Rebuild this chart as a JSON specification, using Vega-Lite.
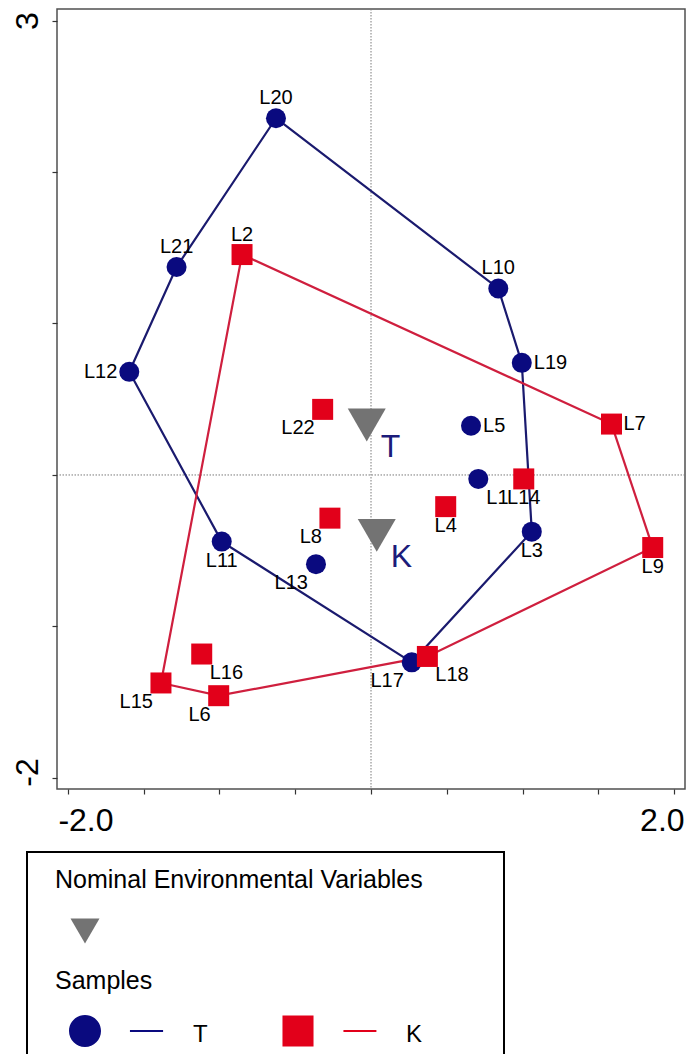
{
  "$schema": "https://vega.github.io/schema/vega-lite/v6.json",
  "width": 628,
  "height": 780,
  "autosize": {"type": "none"},
  "padding": {"left": 57, "top": 9, "right": 3, "bottom": 265},
  "config": {
    "font": "Liberation Sans",
    "view": {"stroke": "#505050", "strokeWidth": 1.5},
    "axis": {"domain": false, "grid": false, "title": null, "labelOverlap": false, "labelColor": "#000000", "tickColor": "#333333", "tickWidth": 1.2, "tickSize": 5, "labelFont": "Liberation Sans"}
  },
  "datasets": {
    "samples": [
      {"id": "L20", "group": "T", "x": -0.627, "y": 2.355, "hull": 1, "pos": "above"},
      {"id": "L10", "group": "T", "x": 0.840, "y": 1.231, "hull": 2, "pos": "above"},
      {"id": "L19", "group": "T", "x": 0.995, "y": 0.740, "hull": 3, "pos": "right"},
      {"id": "L3", "group": "T", "x": 1.061, "y": -0.374, "hull": 4, "pos": "below"},
      {"id": "L17", "group": "T", "x": 0.269, "y": -1.237, "hull": 5, "pos": "belowleft"},
      {"id": "L11", "group": "T", "x": -0.985, "y": -0.440, "hull": 6, "pos": "below"},
      {"id": "L12", "group": "T", "x": -1.595, "y": 0.681, "hull": 7, "pos": "left"},
      {"id": "L21", "group": "T", "x": -1.283, "y": 1.373, "hull": 8, "pos": "above"},
      {"id": "L5", "group": "T", "x": 0.660, "y": 0.325, "hull": null, "pos": "right"},
      {"id": "L1", "group": "T", "x": 0.708, "y": -0.026, "hull": null, "pos": "belowright"},
      {"id": "L13", "group": "T", "x": -0.363, "y": -0.589, "hull": null, "pos": "belowleft"},
      {"id": "L2", "group": "K", "x": -0.851, "y": 1.455, "hull": 1, "pos": "above"},
      {"id": "L7", "group": "K", "x": 1.587, "y": 0.336, "hull": 2, "pos": "right"},
      {"id": "L9", "group": "K", "x": 1.859, "y": -0.479, "hull": 3, "pos": "below"},
      {"id": "L18", "group": "K", "x": 0.372, "y": -1.198, "hull": 4, "pos": "belowright"},
      {"id": "L6", "group": "K", "x": -1.005, "y": -1.457, "hull": 5, "pos": "belowleft"},
      {"id": "L15", "group": "K", "x": -1.386, "y": -1.373, "hull": 6, "pos": "belowleft"},
      {"id": "L16", "group": "K", "x": -1.117, "y": -1.182, "hull": null, "pos": "belowright"},
      {"id": "L22", "group": "K", "x": -0.319, "y": 0.433, "hull": null, "pos": "belowleft"},
      {"id": "L8", "group": "K", "x": -0.271, "y": -0.285, "hull": null, "pos": "belowleft"},
      {"id": "L4", "group": "K", "x": 0.493, "y": -0.209, "hull": null, "pos": "below"},
      {"id": "L14", "group": "K", "x": 1.008, "y": -0.026, "hull": null, "pos": "below"}
    ],
    "env": [
      {"env": "T", "x": -0.028, "y": 0.330},
      {"env": "K", "x": 0.038, "y": -0.399}
    ]
  },
  "layer": [
    {
      "data": {"values": [{}]},
      "mark": {"type": "rule", "color": "#7a7a7a", "strokeWidth": 1, "strokeDash": [1.5, 1.5]},
      "encoding": {"x": {"datum": 0, "type": "quantitative", "scale": {"domain": [-2.072, 2.072], "nice": false, "zero": false}}}
    },
    {
      "data": {"values": [{}]},
      "mark": {"type": "rule", "color": "#7a7a7a", "strokeWidth": 1, "strokeDash": [1.5, 1.5]},
      "encoding": {"y": {"datum": 0, "type": "quantitative", "scale": {"domain": [-2.073, 3.076], "nice": false, "zero": false}}}
    },
    {
      "data": {"name": "samples"},
      "transform": [{"filter": "isValid(datum.hull) && datum.group === 'T'"}],
      "mark": {"type": "line", "interpolate": "linear-closed", "strokeWidth": 2.2, "color": "#1a1a6e"},
      "encoding": {
        "x": {"field": "x", "type": "quantitative", "scale": {"domain": [-2.072, 2.072], "nice": false, "zero": false}},
        "y": {"field": "y", "type": "quantitative", "scale": {"domain": [-2.073, 3.076], "nice": false, "zero": false}},
        "order": {"field": "hull", "type": "quantitative"}
      }
    },
    {
      "data": {"name": "samples"},
      "transform": [{"filter": "isValid(datum.hull) && datum.group === 'K'"}],
      "mark": {"type": "line", "interpolate": "linear-closed", "strokeWidth": 2.2, "color": "#cf1f3e"},
      "encoding": {
        "x": {"field": "x", "type": "quantitative", "scale": {"domain": [-2.072, 2.072], "nice": false, "zero": false}},
        "y": {"field": "y", "type": "quantitative", "scale": {"domain": [-2.073, 3.076], "nice": false, "zero": false}},
        "order": {"field": "hull", "type": "quantitative"}
      }
    },
    {
      "data": {"name": "samples"},
      "transform": [{"filter": "datum.group === 'T'"}],
      "mark": {"type": "point", "filled": true, "opacity": 1, "shape": "circle", "size": 400, "strokeWidth": 0, "color": "#0a0a7f"},
      "encoding": {
        "x": {"field": "x", "type": "quantitative", "scale": {"domain": [-2.072, 2.072], "nice": false, "zero": false},
          "axis": {"values": [-2, -1.5, -1, -0.5, 0, 0.5, 1, 1.5, 2], "labelExpr": "datum.value == -2 ? '-2.0' : (datum.value == 2 ? '2.0' : '')", "labelFontSize": 32, "labelFlush": 15, "labelFlushOffset": 10, "labelPadding": 11}},
        "y": {"field": "y", "type": "quantitative", "scale": {"domain": [-2.073, 3.076], "nice": false, "zero": false},
          "axis": {"values": [-2, -1, 0, 1, 2, 3], "labelExpr": "datum.value == 3 ? '3' : (datum.value == -2 ? '-2' : '')", "labelAngle": -90, "labelFontSize": 32, "labelPadding": 8, "labelOffset": {"condition": {"test": "datum.value == -2", "value": -6}, "value": 0}}}
      }
    },
    {
      "data": {"name": "samples"},
      "transform": [{"filter": "datum.group === 'K'"}],
      "mark": {"type": "point", "filled": true, "opacity": 1, "shape": "square", "size": 441, "strokeWidth": 0, "color": "#e2001a"},
      "encoding": {
        "x": {"field": "x", "type": "quantitative", "scale": {"domain": [-2.072, 2.072], "nice": false, "zero": false}},
        "y": {"field": "y", "type": "quantitative", "scale": {"domain": [-2.073, 3.076], "nice": false, "zero": false}}
      }
    },
    {
      "data": {"name": "samples"},
      "transform": [{"filter": "false"}],
      "mark": {"type": "point", "filled": true, "opacity": 1, "strokeWidth": 0},
      "encoding": {
        "x": {"field": "x", "type": "quantitative", "scale": {"domain": [-2.072, 2.072], "nice": false, "zero": false}},
        "y": {"field": "y", "type": "quantitative", "scale": {"domain": [-2.073, 3.076], "nice": false, "zero": false}},
        "color": {"field": "group", "type": "nominal", "scale": {"domain": ["T", "K"], "range": ["#0a0a7f", "#e2001a"]},
          "legend": {"title": ["Nominal Environmental Variables", "Samples"], "orient": "none", "legendX": -30, "legendY": 843, "direction": "horizontal", "padding": 16, "strokeColor": "#000000", "titleFontSize": 25, "titleFontWeight": "normal", "titleColor": "#000000", "titleLineHeight": 101, "titleLimit": 1000, "titlePadding": 21, "symbolSize": 1024, "symbolOffset": 26, "symbolStrokeWidth": 0, "symbolOpacity": 1, "labelFontSize": 24, "labelOffset": 92, "labelColor": "#000000", "columnPadding": 48,
            "encode": {"legend": {"update": {"strokeWidth": {"value": 2}}}, "title": {"update": {"dx": {"value": 12}}}, "labels": {"update": {"dy": {"value": 4}}}}}},
        "shape": {"field": "group", "type": "nominal", "scale": {"domain": ["T", "K"], "range": ["M-1,0A1,1,0,1,1,1,0A1,1,0,1,1,-1,0Z M2.81,-0.07H4.88V0.07H2.81Z", "M-0.97,-0.97H0.97V0.97H-0.97Z M2.84,-0.07H4.9V0.07H2.84Z M11.84,0"]},
          "legend": {"title": ["Nominal Environmental Variables", "Samples"], "orient": "none", "legendX": -30, "legendY": 843, "direction": "horizontal", "padding": 16, "strokeColor": "#000000", "titleFontSize": 25, "titleFontWeight": "normal", "titleColor": "#000000", "titleLineHeight": 101, "titleLimit": 1000, "titlePadding": 21, "symbolSize": 1024, "symbolOffset": 26, "symbolStrokeWidth": 0, "symbolOpacity": 1, "labelFontSize": 24, "labelOffset": 92, "labelColor": "#000000", "columnPadding": 48,
            "encode": {"legend": {"update": {"strokeWidth": {"value": 2}}}, "title": {"update": {"dx": {"value": 12}}}, "labels": {"update": {"dy": {"value": 4}}}}}}
      }
    },
    {
      "data": {"name": "env"},
      "mark": {"type": "point", "filled": true, "opacity": 1, "shape": "triangle-down", "size": 1444, "strokeWidth": 0},
      "encoding": {
        "x": {"field": "x", "type": "quantitative", "scale": {"domain": [-2.072, 2.072], "nice": false, "zero": false}},
        "y": {"field": "y", "type": "quantitative", "scale": {"domain": [-2.073, 3.076], "nice": false, "zero": false}},
        "fill": {"field": "env", "type": "nominal", "scale": {"domain": ["K", "T"], "range": ["#737373", "#737373"]},
          "legend": {"title": null, "values": ["T"], "orient": "none", "legendX": 13.5, "legendY": 907.5, "padding": 0, "symbolType": "triangle-down", "symbolSize": 841, "symbolStrokeWidth": 0, "labelExpr": "''", "labelFontSize": 10}}
      }
    },
    {
      "data": {"name": "env"},
      "mark": {"type": "text", "align": "left", "baseline": "middle", "dx": 14, "dy": 22, "fontSize": 32, "color": "#1c1c7a", "font": "Liberation Sans"},
      "encoding": {
        "x": {"field": "x", "type": "quantitative", "scale": {"domain": [-2.072, 2.072], "nice": false, "zero": false}},
        "y": {"field": "y", "type": "quantitative", "scale": {"domain": [-2.073, 3.076], "nice": false, "zero": false}},
        "text": {"field": "env"}
      }
    },
    {
      "data": {"name": "samples"},
      "transform": [{"filter": "datum.pos === 'above'"}],
      "mark": {"type": "text", "align": "center", "baseline": "middle", "dy": -20, "fontSize": 20, "color": "#000000", "font": "Liberation Sans"},
      "encoding": {
        "x": {"field": "x", "type": "quantitative", "scale": {"domain": [-2.072, 2.072], "nice": false, "zero": false}},
        "y": {"field": "y", "type": "quantitative", "scale": {"domain": [-2.073, 3.076], "nice": false, "zero": false}},
        "text": {"field": "id"}
      }
    },
    {
      "data": {"name": "samples"},
      "transform": [{"filter": "datum.pos === 'below'"}],
      "mark": {"type": "text", "align": "center", "baseline": "middle", "dy": 19, "fontSize": 20, "color": "#000000", "font": "Liberation Sans"},
      "encoding": {
        "x": {"field": "x", "type": "quantitative", "scale": {"domain": [-2.072, 2.072], "nice": false, "zero": false}},
        "y": {"field": "y", "type": "quantitative", "scale": {"domain": [-2.073, 3.076], "nice": false, "zero": false}},
        "text": {"field": "id"}
      }
    },
    {
      "data": {"name": "samples"},
      "transform": [{"filter": "datum.pos === 'right'"}],
      "mark": {"type": "text", "align": "left", "baseline": "middle", "dx": 12, "fontSize": 20, "color": "#000000", "font": "Liberation Sans"},
      "encoding": {
        "x": {"field": "x", "type": "quantitative", "scale": {"domain": [-2.072, 2.072], "nice": false, "zero": false}},
        "y": {"field": "y", "type": "quantitative", "scale": {"domain": [-2.073, 3.076], "nice": false, "zero": false}},
        "text": {"field": "id"}
      }
    },
    {
      "data": {"name": "samples"},
      "transform": [{"filter": "datum.pos === 'left'"}],
      "mark": {"type": "text", "align": "right", "baseline": "middle", "dx": -12, "fontSize": 20, "color": "#000000", "font": "Liberation Sans"},
      "encoding": {
        "x": {"field": "x", "type": "quantitative", "scale": {"domain": [-2.072, 2.072], "nice": false, "zero": false}},
        "y": {"field": "y", "type": "quantitative", "scale": {"domain": [-2.073, 3.076], "nice": false, "zero": false}},
        "text": {"field": "id"}
      }
    },
    {
      "data": {"name": "samples"},
      "transform": [{"filter": "datum.pos === 'belowleft'"}],
      "mark": {"type": "text", "align": "right", "baseline": "middle", "dx": -8, "dy": 19, "fontSize": 20, "color": "#000000", "font": "Liberation Sans"},
      "encoding": {
        "x": {"field": "x", "type": "quantitative", "scale": {"domain": [-2.072, 2.072], "nice": false, "zero": false}},
        "y": {"field": "y", "type": "quantitative", "scale": {"domain": [-2.073, 3.076], "nice": false, "zero": false}},
        "text": {"field": "id"}
      }
    },
    {
      "data": {"name": "samples"},
      "transform": [{"filter": "datum.pos === 'belowright'"}],
      "mark": {"type": "text", "align": "left", "baseline": "middle", "dx": 8, "dy": 19, "fontSize": 20, "color": "#000000", "font": "Liberation Sans"},
      "encoding": {
        "x": {"field": "x", "type": "quantitative", "scale": {"domain": [-2.072, 2.072], "nice": false, "zero": false}},
        "y": {"field": "y", "type": "quantitative", "scale": {"domain": [-2.073, 3.076], "nice": false, "zero": false}},
        "text": {"field": "id"}
      }
    }
  ]
}
